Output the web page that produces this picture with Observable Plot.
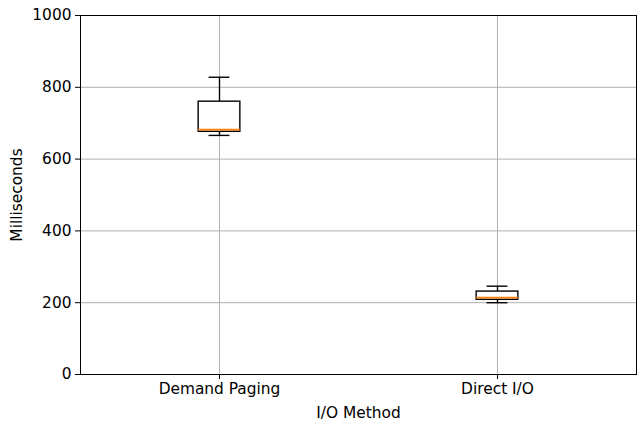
<!DOCTYPE html>
<html><head><meta charset="utf-8">
<script src="https://cdn.jsdelivr.net/npm/d3@7"></script>
<script src="https://cdn.jsdelivr.net/npm/@observablehq/plot@0.6"></script>
<style>body{margin:0;background:#fff}svg{font-family:"DejaVu Sans",sans-serif}</style>
</head><body><div id="chart"></div>
<script>
const categories = ["Demand Paging", "Direct I/O"];
const positions = [1, 2];
const whislo = [666, 200];
const q1 = [676, 208];
const med = [682, 214];
const q3 = [760, 231];
const whishi = [828, 246];
const yTicks = [0, 200, 400, 600, 800, 1000];

const data = categories.map((c, i) => ({c, p: positions[i], lo: whislo[i], q1: q1[i], med: med[i], q3: q3[i], hi: whishi[i]}));
const bw = 0.075, cw = 0.0375;
const fs = 15.4;

const chart = Plot.plot({
  width: 637, height: 422,
  marginLeft: 80, marginRight: 1, marginTop: 15, marginBottom: 48,
  style: {fontSize: fs + "px", fontFamily: "DejaVu Sans, sans-serif", color: "#000", background: "#fff"},
  x: {domain: [0.5, 2.5]},
  y: {domain: [0, 1000]},
  marks: [
    Plot.ruleY(yTicks, {stroke: "#b0b0b0", strokeWidth: 1}),
    Plot.ruleX(positions, {stroke: "#b0b0b0", strokeWidth: 1}),
    Plot.axisX({ticks: positions, tickFormat: d => categories[positions.indexOf(d)], tickSize: 5, tickPadding: 4, fontSize: fs, label: "I/O Method", labelAnchor: "center", labelArrow: "none", labelOffset: 43}),
    Plot.axisY({ticks: yTicks, tickFormat: d3.format("d"), tickSize: 5, tickPadding: 4, fontSize: fs, label: "Milliseconds", labelAnchor: "center", labelArrow: "none", labelOffset: 69}),
    Plot.ruleX(data, {x: "p", y1: "lo", y2: "q1", stroke: "#000", strokeWidth: 1.4}),
    Plot.ruleX(data, {x: "p", y1: "q3", y2: "hi", stroke: "#000", strokeWidth: 1.4}),
    Plot.ruleY(data, {y: "lo", x1: d => d.p - cw, x2: d => d.p + cw, stroke: "#000", strokeWidth: 1.4}),
    Plot.ruleY(data, {y: "hi", x1: d => d.p - cw, x2: d => d.p + cw, stroke: "#000", strokeWidth: 1.4}),
    Plot.rect(data, {x1: d => d.p - bw, x2: d => d.p + bw, y1: "q1", y2: "q3", fill: "#fff", stroke: "#000", strokeWidth: 1.4}),
    Plot.ruleY(data, {y: "med", x1: d => d.p - bw, x2: d => d.p + bw, stroke: "#ff7f0e", strokeWidth: 1.6}),
    Plot.frame({stroke: "#000", strokeWidth: 1})
  ]
});
document.getElementById("chart").append(chart);
</script></body></html>
